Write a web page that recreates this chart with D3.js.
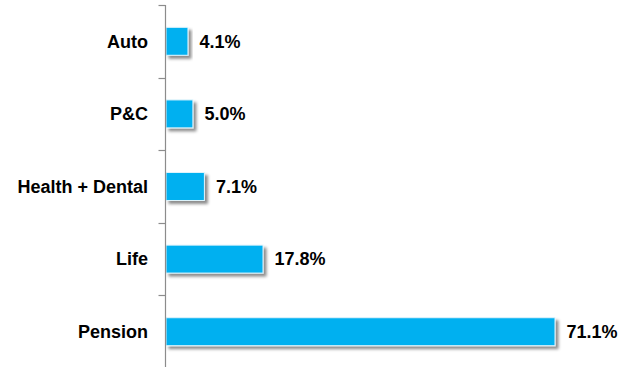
<!DOCTYPE html>
<html>
<head>
<meta charset="utf-8">
<script src="https://cdn.jsdelivr.net/npm/d3@7"></script>
<style>
  html, body { margin: 0; padding: 0; background: #fff; }
  svg { display: block; }
  text { font-family: "Liberation Sans", Arial, sans-serif; font-weight: bold; fill: #000; }
</style>
</head>
<body>
<svg id="chart" width="632" height="367"></svg>
<script>
// Share of premiums by line of business (%)
const categories = ["Auto", "P&C", "Health + Dental", "Life", "Pension"];
const shares = [4.1, 5.0, 7.1, 17.8, 71.1];
const valueLabels = ["4.1%", "5.0%", "7.1%", "17.8%", "71.1%"];

const svg = d3.select("#chart");
const axisX = 165.5;
const fontSize = 18;

const x = d3.scaleLinear().domain([0, 71.1]).range([axisX, 555]);
const y = d3.scaleBand().domain(categories).range([5, 368]).paddingInner(0.615).paddingOuter(0.3075);

// soft drop shadow under each bar
const defs = svg.append("defs");
const f = defs.append("filter").attr("id", "shadow")
  .attr("x", "-10%").attr("y", "-30%").attr("width", "130%").attr("height", "190%");
f.append("feDropShadow").attr("dx", 3).attr("dy", 3).attr("stdDeviation", 1.6)
  .attr("flood-color", "#000").attr("flood-opacity", 0.45);

// bars
svg.append("g").selectAll("rect").data(categories).join("rect")
  .attr("x", axisX + 0.5)
  .attr("y", d => y(d))
  .attr("width", (d, i) => x(shares[i]) - axisX - 0.5)
  .attr("height", y.bandwidth())
  .attr("fill", "#00B0F0")
  .attr("stroke", "#dff4fc")
  .attr("stroke-width", 1)
  .attr("filter", "url(#shadow)");

// value labels
svg.append("g").selectAll("text").data(categories).join("text")
  .attr("x", (d, i) => x(shares[i]) + 11.5)
  .attr("y", d => y(d) + y.bandwidth() / 2)
  .attr("dy", "0.35em")
  .attr("font-size", fontSize)
  .text((d, i) => valueLabels[i]);

// category axis: vertical line with ticks on the band boundaries
const axisG = svg.append("g");
axisG.append("line")
  .attr("x1", axisX).attr("x2", axisX)
  .attr("y1", 5).attr("y2", 368)
  .attr("stroke", "#8c8c8c").attr("stroke-width", 1.2);
const boundaries = d3.range(categories.length + 1).map(i => 5 + i * (363 / categories.length));
axisG.selectAll("line.tick").data(boundaries).join("line")
  .attr("class", "tick")
  .attr("x1", axisX - 7).attr("x2", axisX)
  .attr("y1", d => Math.round(d) + 0.5).attr("y2", d => Math.round(d) + 0.5)
  .attr("stroke", "#8c8c8c").attr("stroke-width", 1.2);

// category labels
axisG.selectAll("text").data(categories).join("text")
  .attr("x", 148)
  .attr("y", d => y(d) + y.bandwidth() / 2)
  .attr("dy", "0.35em")
  .attr("text-anchor", "end")
  .attr("font-size", fontSize)
  .text(d => d);
</script>
</body>
</html>
